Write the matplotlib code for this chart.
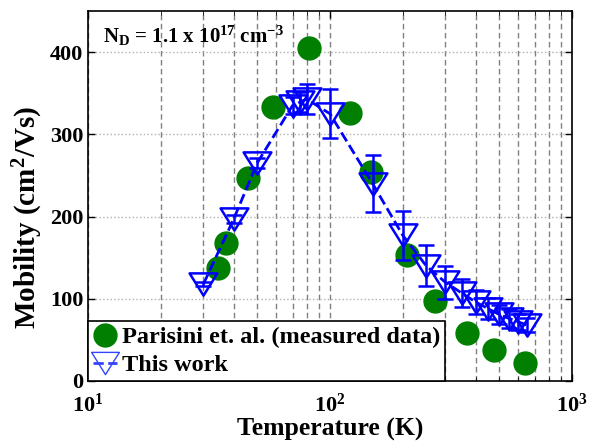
import numpy as np
import matplotlib
matplotlib.use("Agg")
import matplotlib.pyplot as plt
from matplotlib.path import Path
from matplotlib.lines import Line2D
from matplotlib.ticker import LogLocator, NullFormatter

plt.rcParams['font.family'] = ['Liberation Serif', 'DejaVu Serif']
plt.rcParams['font.weight'] = 'bold'
plt.rcParams['mathtext.fontset'] = 'custom'
plt.rcParams['mathtext.rm'] = 'Liberation Serif:bold'
plt.rcParams['mathtext.it'] = 'Liberation Serif:bold:italic'
plt.rcParams['mathtext.bf'] = 'Liberation Serif:bold'
plt.rcParams['mathtext.default'] = 'rm'

# Parisini et al. (measured data)
meas_T = [34.4, 37.2, 45.8, 58.1, 81.8, 121, 147.6, 208, 272, 368, 476, 640]
meas_mu = [138, 168, 247, 333, 405, 326, 254, 153, 97, 58, 38, 22]

# This work
sim_T = [30, 40, 50, 70, 75, 80, 100, 150, 200, 250, 300, 350, 400, 450, 500, 550, 600, 650]
sim_mu = [118, 197, 265, 335, 339, 343, 325, 240, 177, 140, 120, 107, 96, 88, 81, 76, 72, 68]
sim_err = [3, 5, 6, 10, 12, 18, 30, 35, 30, 25, 20, 17, 15, 13, 12, 11, 10, 9]

legend_labels = ['Parisini et. al. (measured data)', 'This work']

fig = plt.figure(figsize=(5.93, 4.41), dpi=100)
ax = fig.add_axes([88/593, 60/441, 484/593, 370/441])

tri = Path([(-1, 0.8), (1, 0.8), (0, -0.8), (-1, 0.8)],
           [Path.MOVETO, Path.LINETO, Path.LINETO, Path.CLOSEPOLY])

ax.plot(meas_T, meas_mu, 'o', color='#007f00', markersize=16.5,
        linestyle='none', zorder=3)
ax.errorbar(sim_T, sim_mu, yerr=sim_err, color='#0000ff', linestyle='--',
            linewidth=2, marker=tri, markersize=20, markerfacecolor='none',
            markeredgewidth=1.8, capsize=6, elinewidth=1.8, capthick=1.8,
            zorder=4)

ax.set_xscale('log')
ax.set_xlim(10, 1000)
ax.set_ylim(0, 450)
ax.set_yticks([0, 100, 200, 300, 400])
ax.xaxis.set_minor_locator(LogLocator(base=10, subs=np.arange(2, 10)))
ax.xaxis.set_minor_formatter(NullFormatter())

ax.grid(True, which='both', axis='x', linestyle=(0, (4, 2.5)), color='#808080', linewidth=1)
ax.grid(True, which='major', axis='y', linestyle=':', color='#b0b0b0', linewidth=1)
ax.set_axisbelow(True)

ax.tick_params(axis='both', which='both', direction='in', top=True, right=True,
               labelsize=16)
ax.tick_params(axis='both', which='major', length=5, width=1)
ax.tick_params(axis='x', which='minor', length=3)
ax.tick_params(axis='x', pad=9)
for s in ax.spines.values():
    s.set_linewidth(1.2)

ax.set_xlabel('Temperature (K)', fontsize=18.5, fontweight='bold', labelpad=1)
ax.set_ylabel('Mobility (cm$^{2}$/Vs)', fontsize=21, fontweight='bold')
ax.yaxis.set_label_coords(-0.088, 0.443)

ax.text(0.03, 0.965, 'N$_{\\mathrm{D}}$ = 1.1 x 10$^{\\mathrm{17}}$ cm$^{\\mathrm{-3}}$',
        transform=ax.transAxes, fontsize=15, fontweight='bold', va='top', ha='left')

h1 = Line2D([], [], marker='o', color='#007f00', markersize=16.5, linestyle='none')
h2 = Line2D([], [], marker=tri, color='#3344ff', markersize=20, markerfacecolor='none',
            markeredgewidth=1.0, linestyle='--', linewidth=2)
leg = ax.legend([h1, h2], legend_labels,
                loc='lower left', bbox_to_anchor=(0, 0), borderaxespad=0,
                fontsize=17.5, frameon=True, fancybox=False, framealpha=1,
                edgecolor='black', handlelength=1.0, handletextpad=0.2,
                borderpad=0.2, labelspacing=0.25)
leg.get_frame().set_linewidth(1.2)

fig.savefig('out.png', dpi=100)
